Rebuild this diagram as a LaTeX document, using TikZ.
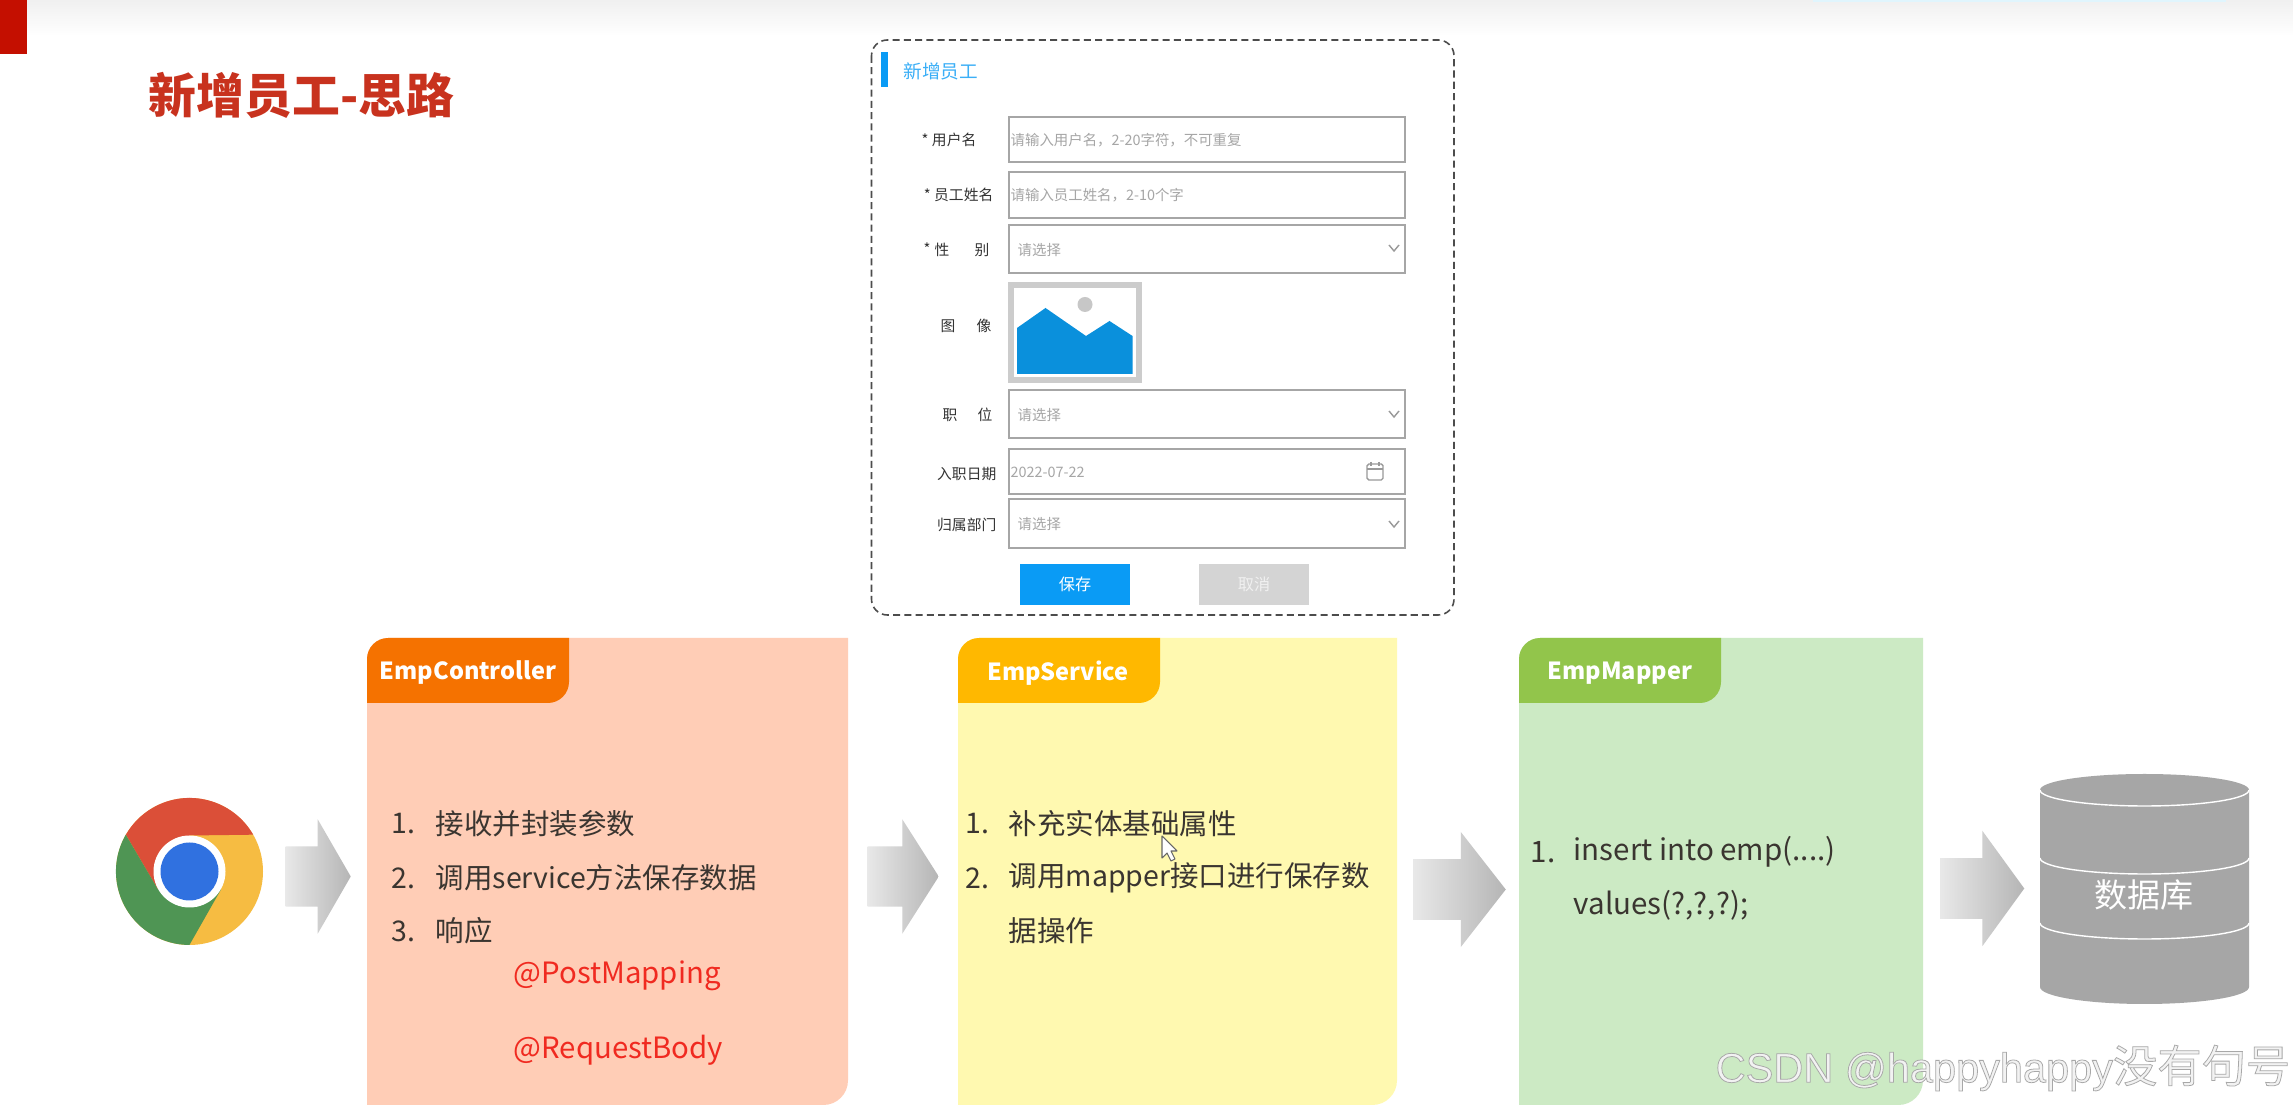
\documentclass[tikz,border=0pt]{standalone}
\usepackage{fontspec}
\setmainfont{Noto Sans CJK SC}
\newfontfamily\markfont{Liberation Sans}
\usetikzlibrary{shapes.arrows}
\definecolor{titlered}{HTML}{C8321E}
\definecolor{cornerred}{HTML}{C40F00}
\definecolor{formblue}{HTML}{0A9BF5}
\definecolor{picblue}{HTML}{0A90DC}
\definecolor{ctrlbg}{HTML}{FFCDB6}
\definecolor{ctrltab}{HTML}{F57200}
\definecolor{servbg}{HTML}{FFF9B0}
\definecolor{servtab}{HTML}{FFB800}
\definecolor{mapbg}{HTML}{CCEAC4}
\definecolor{maptab}{HTML}{92C54B}
\definecolor{dbgray}{HTML}{A6A6A6}
\definecolor{bodytext}{HTML}{3A3530}
\definecolor{annored}{HTML}{F02A20}
\definecolor{chromer}{HTML}{DB4F38}
\definecolor{chromey}{HTML}{F6BC42}
\definecolor{chromeg}{HTML}{4F9554}
\definecolor{chromeb}{HTML}{3071E0}
\tikzset{
  fieldbox/.style={draw=black!35,line width=0.55pt,fill=white},
  formlabel/.style={font=\fontsize{4.2}{5}\selectfont,text=black!80,inner sep=0pt},
  hint/.style={font=\fontsize{4.1}{5}\selectfont,text=black!35,anchor=west,inner sep=0pt},
  chevron/.style={draw=black!40,line width=0.4pt},
  tabtext/.style={font=\fontsize{6.7}{9}\selectfont\bfseries,text=white,inner sep=0pt},
  listtext/.style={font=\fontsize{8.1}{10}\selectfont,text=bodytext,anchor=west,inner sep=0pt},
  codetext/.style={font=\fontsize{8.4}{10}\selectfont,text=bodytext,anchor=west,inner sep=0pt},
  annotext/.style={font=\fontsize{8.35}{10}\selectfont,text=annored,anchor=west,inner sep=0pt},
  flowarrow/.style={single arrow,left color=black!9,right color=black!29,inner xsep=0pt,inner ysep=0.295cm,
    minimum width=1.13cm,single arrow head extend=0.27cm,anchor=tail}
}
\begin{document}
\begin{tikzpicture}[x=0.01cm,y=-0.01cm]
  \useasboundingbox (0,0) rectangle (2293,1107);
  % Slide background
  \fill[white] (0,0) rectangle (2293,1107);
  \fill[top color=black!6,bottom color=white] (0,0) rectangle (2293,36);
  \fill[cyan!12] (1813,0) rectangle (2226,2);
  \fill[cornerred] (0,0) rectangle (27,54);
  \node[font=\fontsize{13.6}{15}\selectfont\bfseries,text=titlered,anchor=west,inner sep=0pt] (title) at (148,95) {新增员工-思路};

  % Form
  \draw[black!70,line width=0.45pt,dashed,dash pattern=on 2pt off 1.2pt,rounded corners=4.5pt] (871.5,40) rectangle (1454,615);
  \fill[formblue] (881,52) rectangle (887.5,87);
  \node[font=\fontsize{5.3}{6}\selectfont,text=formblue!80,anchor=west,inner sep=0pt] (formtitle) at (903,71) {新增员工};

  \draw[fieldbox] (1009,117) rectangle (1405,162);
  \draw[fieldbox] (1009,172) rectangle (1405,218);
  \draw[fieldbox] (1009,225) rectangle (1405,273);
  \draw[fieldbox] (1009,390) rectangle (1405,438);
  \draw[fieldbox] (1009,449) rectangle (1405,494);
  \draw[fieldbox] (1009,499) rectangle (1405,548);

  \node[formlabel,anchor=east] (lbluser) at (977,140) {*\hspace{1pt}用户名};
  \node[formlabel,anchor=east] (lblname) at (994,195) {*\hspace{1pt}员工姓名};
  \node[formlabel] (lblstar) at (927,249) {*};
  \node[formlabel] (lblgender) at (942,250) {性};
  \node[formlabel] (lblgenderb) at (982,250) {别};
  \node[formlabel] (lblimage) at (948,326) {图};
  \node[formlabel] (lblimageb) at (984,326) {像};
  \node[formlabel] (lbljob) at (950,415) {职};
  \node[formlabel] (lbljobb) at (985,415) {位};
  \node[formlabel,anchor=east] (lbldate) at (997,474) {入职日期};
  \node[formlabel,anchor=east] (lbldept) at (997,525) {归属部门};

  \node[hint] (hintuser) at (1010,140) {请输入用户名，2-20字符，不可重复};
  \node[hint] (hintname) at (1010,195) {请输入员工姓名，2-10个字};
  \node[hint] (hintgender) at (1017,250) {请选择};
  \node[hint] (hintjob) at (1017,415) {请选择};
  \node[hint] (hintdate) at (1010,472) {2022-07-22};
  \node[hint] (hintdept) at (1017,524) {请选择};

  \draw[chevron] (1389,245) -- (1394,251) -- (1399,245);
  \draw[chevron] (1389,411) -- (1394,417) -- (1399,411);
  \draw[chevron] (1389,521) -- (1394,527) -- (1399,521);

  % Calendar icon
  \draw[black!40,line width=0.4pt,rounded corners=0.5pt] (1367,464) rectangle (1383,480);
  \draw[black!40,line width=0.4pt] (1367,469) -- (1383,469);
  \draw[black!40,line width=0.4pt] (1371,462) -- (1371,466);
  \draw[black!40,line width=0.4pt] (1379,462) -- (1379,466);

  % Image placeholder
  \draw[black!20,line width=1.7pt] (1011,285) rectangle (1139,380);
  \fill[picblue] (1017,328) -- (1045.5,308) -- (1086,336) -- (1109.5,321) -- (1132.5,336) -- (1132.5,374) -- (1017,374) -- cycle;
  \fill[black!22] (1085,304.5) circle[radius=7.5];

  % Buttons
  \node[fill=formblue,minimum width=1.1cm,minimum height=0.41cm,inner sep=0pt,text=white,font=\fontsize{4.6}{5}\selectfont] (savebtn) at (1075,584.5) {保存};
  \node[fill=black!17,minimum width=1.095cm,minimum height=0.41cm,inner sep=0pt,text=black!6,font=\fontsize{4.6}{5}\selectfont] (cancelbtn) at (1254,584.5) {取消};

  % Browser icon
  \fill[chromey] (189.5,871.5) circle[radius=73.5];
  \fill[chromer] (253.2,834.7) arc[start angle=-30,end angle=-150,radius=73.5] -- (158,889.5) -- (189.5,871.5) -- (189.5,835.5) -- cycle;
  \fill[chromeg] (125.8,834.7) arc[start angle=-150,end angle=-270,radius=73.5] -- (221,889.5) -- (189.5,871.5) -- (158,889.5) -- cycle;
  \fill[white] (189.5,871.5) circle[radius=36];
  \fill[chromeb] (189.5,871.5) circle[radius=29];
  \node[inner sep=0pt,minimum size=1.47cm,circle] (browser) at (189.5,871.5) {};

  % Controller
  \fill[ctrlbg] (367,1105) [rounded corners=6pt] -- (367,638) [sharp corners] -- (848,638) [rounded corners=7pt] -- (848,1105) [sharp corners] -- cycle;
  \fill[ctrltab] (367,703) [rounded corners=6pt] -- (367,638) [sharp corners] -- (569,638) [rounded corners=6pt] -- (569,703) [sharp corners] -- cycle;
  \node[tabtext] (ctrlname) at (468,673) {EmpController};
  \node[listtext] (ctrlnuma) at (391,824) {1.};
  \node[listtext] (ctrla) at (435,824) {接收并封装参数};
  \node[listtext] (ctrlnumb) at (391,878) {2.};
  \node[listtext] (ctrlb) at (435,878) {调用service方法保存数据};
  \node[listtext] (ctrlnumc) at (391,931) {3.};
  \node[listtext] (ctrlc) at (435,931) {响应};
  \node[annotext] (postmap) at (513,976) {@PostMapping};
  \node[annotext] (reqbody) at (513,1050) {@RequestBody};

  % Service
  \fill[servbg] (958,1105) [rounded corners=6pt] -- (958,638) [sharp corners] -- (1397,638) [rounded corners=7pt] -- (1397,1105) [sharp corners] -- cycle;
  \fill[servtab] (958,703) [rounded corners=6pt] -- (958,638) [sharp corners] -- (1160,638) [rounded corners=6pt] -- (1160,703) [sharp corners] -- cycle;
  \node[tabtext] (servname) at (1058,673) {EmpService};
  \node[listtext] (servnuma) at (965,824) {1.};
  \node[listtext] (serva) at (1008,824) {补充实体基础属性};
  \node[listtext] (servnumb) at (965,878) {2.};
  \node[listtext] (servb) at (1008,878) {调用mapper接口进行保存数};
  \node[listtext] (servc) at (1008,931) {据操作};

  % Mouse pointer
  \draw[black!60,fill=white,line width=0.3pt,line join=round] (1162,836) -- (1162,858) -- (1167,853) -- (1171,861) -- (1175,859) -- (1171,851) -- (1177,851) -- cycle;

  % Mapper
  \fill[mapbg] (1519,1105) [rounded corners=6pt] -- (1519,638) [sharp corners] -- (1923,638) [rounded corners=7pt] -- (1923,1105) [sharp corners] -- cycle;
  \fill[maptab] (1519,703) [rounded corners=6pt] -- (1519,638) [sharp corners] -- (1721,638) [rounded corners=6pt] -- (1721,703) [sharp corners] -- cycle;
  \node[tabtext] (mapname) at (1620,673) {EmpMapper};
  \node[codetext] (mapnuma) at (1530,852) {1.};
  \node[codetext] (mapa) at (1573,852) {insert into emp(....)};
  \node[codetext] (mapb) at (1573,905) {values(?,?,?);};

  % Database
  \fill[dbgray] (2040,790) -- (2040,987) arc[start angle=-180,end angle=-360,x radius=104.5,y radius=17] -- (2249,790) arc[start angle=0,end angle=-180,x radius=104.5,y radius=16] -- cycle;
  \draw[white,line width=0.4pt] (2040,790) arc[start angle=-180,end angle=-360,x radius=104.5,y radius=16];
  \draw[white,line width=0.4pt] (2040,858) arc[start angle=-180,end angle=-360,x radius=104.5,y radius=16];
  \draw[white,line width=0.4pt] (2040,923) arc[start angle=-180,end angle=-360,x radius=104.5,y radius=16];
  \node[font=\fontsize{9.4}{11}\selectfont,text=white,inner sep=0pt] (dbname) at (2144,895) {数据库};

  % Flow arrows
  \node[flowarrow,minimum height=0.65cm,single arrow tip angle=120] (arrowa) at (285,876.5) {};
  \node[flowarrow,minimum height=0.71cm,single arrow tip angle=115] (arrowb) at (867,876.5) {};
  \node[flowarrow,minimum height=0.92cm,single arrow tip angle=104,minimum width=1.15cm] (arrowc) at (1413,889.5) {};
  \node[flowarrow,minimum height=0.835cm,single arrow tip angle=108,minimum width=1.15cm] (arrowd) at (1940,888.5) {};

  % Watermark
  \node[font=\fontsize{12.6}{13}\selectfont,anchor=west,inner sep=0pt] (watermark) at (1715,1068)
    {\special{pdf:code 0.66 G 0.95 g 2 Tr 0.22 w}{\markfont\fontsize{11.8}{13}\selectfont CSDN @happyhappy}没有句号\special{pdf:code 0 Tr}};
\end{tikzpicture}
\end{document}
